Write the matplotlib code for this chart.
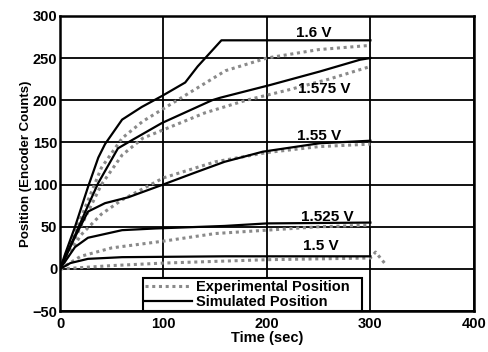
import matplotlib
matplotlib.use("Agg")
from matplotlib import pyplot as plt

# simulated motor position for each drive voltage (time in sec, position in encoder counts)
sim_t_160 = [0, 5, 14.5, 27, 37, 43.5, 60, 79, 98.5, 121, 133, 156, 300]
sim_y_160 = [0, 18, 50, 97, 132, 148, 177, 192, 205, 221, 240, 271, 271]

sim_t_1575 = [0, 14.5, 27, 37, 56, 70, 98.5, 147, 155, 203, 251, 290, 300]
sim_y_1575 = [0, 40, 75, 102, 143, 153, 173, 200, 203, 218, 234, 248, 250]

sim_t_155 = [0, 14.5, 27, 43.5, 66, 99.5, 130, 159, 196, 251, 300]
sim_y_155 = [0, 38, 68, 78, 85, 100, 114, 127, 139, 149, 152]

sim_t_1525 = [0, 14.5, 27, 60, 92, 159, 200, 300]
sim_y_1525 = [0, 26, 37, 46, 48, 51, 54, 55]

sim_t_150 = [0, 10, 27, 60, 160, 300]
sim_y_150 = [0, 7, 12, 14, 15, 15]

# measured position
exp_t_160 = [0, 20, 40, 60, 80, 100, 120, 140, 160, 200, 250, 300]
exp_y_160 = [0, 60, 120, 155, 175, 190, 205, 220, 235, 250, 260, 265]

exp_t_1575 = [0, 20, 40, 60, 80, 100, 140, 180, 220, 260, 300]
exp_y_1575 = [0, 50, 100, 135, 155, 165, 185, 200, 212, 225, 240]

exp_t_155 = [0, 20, 40, 60, 100, 150, 200, 250, 300]
exp_y_155 = [0, 40, 65, 82, 108, 127, 138, 145, 148]

exp_t_1525 = [0, 20, 50, 100, 150, 200, 250, 300]
exp_y_1525 = [0, 15, 25, 33, 42, 46, 50, 52]

exp_t_150 = [0, 50, 100, 150, 200, 250, 300, 305, 315]
exp_y_150 = [0, 4, 7, 9, 11, 12, 13, 20, 5]

labels = ["1.6 V", "1.575 V", "1.55 V", "1.525 V", "1.5 V"]
label_x = [245, 255, 250, 258, 252]
label_y = [280, 213, 158, 62, 27]

plt.rcParams['font.family'] = ['Liberation Sans', 'DejaVu Sans']
plt.rcParams['font.weight'] = 'bold'

fig = plt.figure(figsize=(4.88, 3.52), dpi=100)
ax = fig.add_axes([0.123, 0.116, 0.848, 0.839])

exp_style = dict(color='#8a8a8a', linestyle=(0, (1, 1.2)), linewidth=2.2)
sim_style = dict(color='black', linestyle='-', linewidth=1.6)

ax.plot(exp_t_160, exp_y_160, label='Experimental Position', **exp_style)
ax.plot(exp_t_1575, exp_y_1575, **exp_style)
ax.plot(exp_t_155, exp_y_155, **exp_style)
ax.plot(exp_t_1525, exp_y_1525, **exp_style)
ax.plot(exp_t_150, exp_y_150, **exp_style)

ax.plot(sim_t_160, sim_y_160, label='Simulated Position', **sim_style)
ax.plot(sim_t_1575, sim_y_1575, **sim_style)
ax.plot(sim_t_155, sim_y_155, **sim_style)
ax.plot(sim_t_1525, sim_y_1525, **sim_style)
ax.plot(sim_t_150, sim_y_150, **sim_style)

for text, x, y in zip(labels, label_x, label_y):
    ax.text(x, y, text, ha='center', va='center', fontsize=11, fontweight='bold')

ax.set_xlim(0, 400)
ax.set_ylim(-50, 300)
ax.set_xticks([0, 100, 200, 300, 400])
ax.set_yticks([-50, 0, 50, 100, 150, 200, 250, 300])
ax.tick_params(axis='x', length=0, labelsize=10.5, pad=4)
ax.tick_params(axis='y', length=0, labelsize=10.5, pad=2)
for lbl in ax.get_xticklabels() + ax.get_yticklabels():
    lbl.set_fontweight('bold')
ax.grid(True, color='black', linewidth=1.3)
for sp in ax.spines.values():
    sp.set_linewidth(1.8)

ax.set_xlabel('Time (sec)', fontsize=10.5, fontweight='bold', labelpad=0)
ax.set_ylabel('Position (Encoder Counts)', fontsize=9.5, fontweight='bold', labelpad=0)

leg = ax.legend(loc='lower left', bbox_to_anchor=(0.2, 0.0, 0.53, 0.14), mode='expand',
                fontsize=10.5, frameon=True, fancybox=False, borderpad=0.15,
                labelspacing=0.05, handlelength=3.2, handletextpad=0.3, borderaxespad=0)
leg.get_frame().set_edgecolor('black')
leg.get_frame().set_linewidth(1.5)
leg.get_frame().set_alpha(1)

fig.savefig('out.png', dpi=100, facecolor='white')
